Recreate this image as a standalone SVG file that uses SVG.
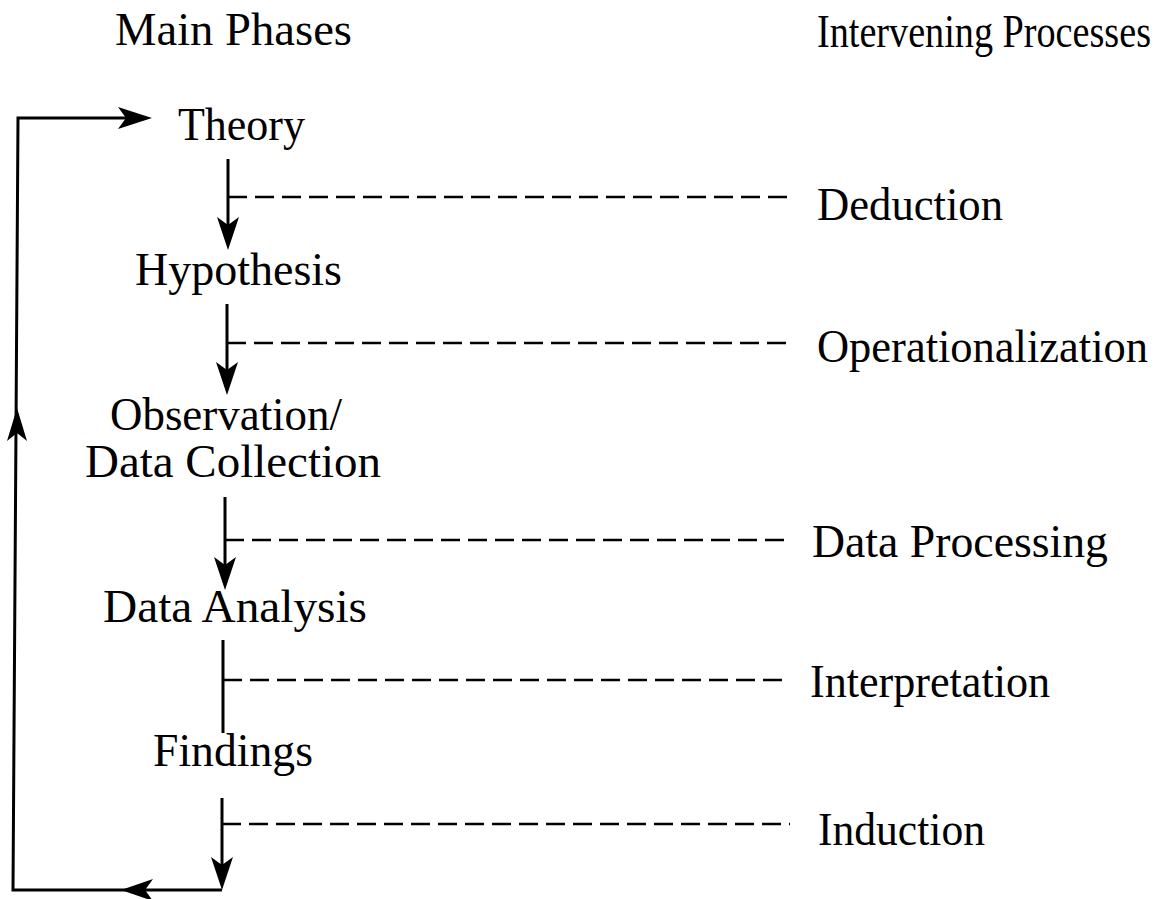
<svg xmlns="http://www.w3.org/2000/svg" width="1159" height="899" viewBox="0 0 1159 899">
<style>
.ln{stroke:#000;stroke-width:3;fill:none}
.ds{stroke:#000;stroke-width:2.6;fill:none;stroke-dasharray:19 8}
.ah{fill:#000}
</style>
<defs>
<path id="down" d="M0,0 L-11,-33 L0,-25 L11,-33 Z"/>
</defs>
<rect width="1159" height="899" fill="#fff"/>
<g font-family="Times New Roman, Liberation Serif, Tinos, Noto Serif, DejaVu Serif, serif" font-size="46" fill="#000">
<g id="headers">
<text x="115" y="45" textLength="237" lengthAdjust="spacingAndGlyphs">Main Phases</text>
<text x="1151" y="47" text-anchor="end" textLength="334" lengthAdjust="spacingAndGlyphs">Intervening Processes</text>
</g>
<g id="theory"><text x="178" y="140" textLength="127" lengthAdjust="spacingAndGlyphs">Theory</text></g>
<g id="hypothesis"><text x="135" y="285" textLength="207" lengthAdjust="spacingAndGlyphs">Hypothesis</text></g>
<g id="observation"><text x="110" y="430" textLength="232" lengthAdjust="spacingAndGlyphs">Observation/</text><text x="85" y="477" textLength="296" lengthAdjust="spacingAndGlyphs">Data Collection</text></g>
<g id="analysis"><text x="103" y="622" textLength="264" lengthAdjust="spacingAndGlyphs">Data Analysis</text></g>
<g id="findings"><text x="153" y="766" textLength="160" lengthAdjust="spacingAndGlyphs">Findings</text></g>
<g id="deduction"><text x="817" y="220" textLength="186" lengthAdjust="spacingAndGlyphs">Deduction</text></g>
<g id="operationalization"><text x="817" y="362" textLength="331" lengthAdjust="spacingAndGlyphs">Operationalization</text></g>
<g id="processing"><text x="812" y="557" textLength="296" lengthAdjust="spacingAndGlyphs">Data Processing</text></g>
<g id="interpretation"><text x="810" y="697" textLength="240" lengthAdjust="spacingAndGlyphs">Interpretation</text></g>
<g id="induction"><text x="818" y="845" textLength="167" lengthAdjust="spacingAndGlyphs">Induction</text></g>
</g>
<g id="connectors">
<line class="ln" x1="228" y1="159" x2="228" y2="230"/>
<use href="#down" x="228" y="250"/>
<line class="ds" x1="228" y1="197" x2="790" y2="197"/>
<line class="ln" x1="227" y1="304" x2="227" y2="375"/>
<use href="#down" x="227" y="395"/>
<line class="ds" x1="227" y1="343" x2="790" y2="343"/>
<line class="ln" x1="225" y1="497" x2="225" y2="570"/>
<use href="#down" x="225" y="590"/>
<line class="ds" x1="225" y1="540" x2="790" y2="540"/>
<line class="ln" x1="223" y1="640" x2="223" y2="733"/>
<line class="ds" x1="223" y1="680" x2="790" y2="680"/>
<line class="ln" x1="222" y1="798" x2="222" y2="870"/>
<use href="#down" x="222" y="890"/>
<line class="ds" x1="222" y1="824" x2="790" y2="824"/>
<polyline class="ln" points="222,890 13,890 18,118 130,118"/>
<path class="ah" d="M152,118 L118,107 L126,118 L118,129 Z"/>
<path class="ah" d="M121,890 L153,879 L145,890 L153,901 Z"/>
<path class="ah" d="M17,408 L7,441 L17,433 L27,441 Z"/>
</g>
</svg>
